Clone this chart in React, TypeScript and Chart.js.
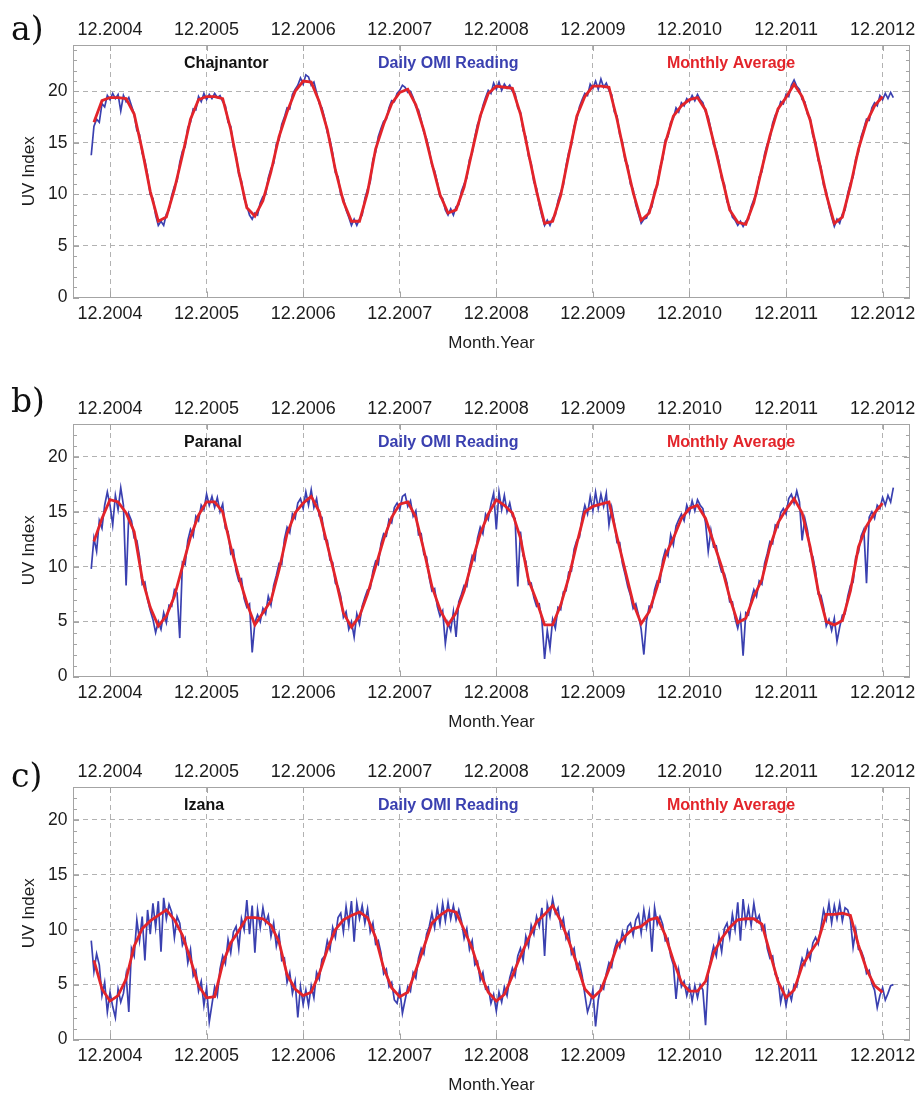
import React, { useEffect, useRef } from 'react';
import { Chart, registerables } from 'chart.js';

Chart.register(...registerables);

// ---------- axis ticks ----------
// x values are months counted from the December 2004 tick
const TICK_MONTHS = [0, 12, 24, 36, 48, 60, 72, 84, 96];
const TICK_LABELS = ['12.2004', '12.2005', '12.2006', '12.2007', '12.2008', '12.2009', '12.2010', '12.2011', '12.2012'];
const Y_TICKS = [0, 5, 10, 15, 20];
const X_MIN = -4.6;
const X_MAX = 99.4;

// first month of the monthly averages (Oct 2004) and sampling of the daily trace (~every 10 days)
const MONTHLY_FIRST = -2;
const DAILY_FIRST = -7 / 3;
const DAILY_STEP = 1 / 3;

// ---------- a) Chajnantor ----------
const CHAJ_MONTHLY = [
  17.0, 19.1, 19.4, 19.4, 19.3, 17.8, 14.3, 10.3, 7.4, 7.8, 10.5, 13.8, 17.3, 19.2,
  19.5, 19.5, 19.3, 16.3, 12.2, 8.7, 7.9, 9.4, 12.2, 15.6, 18.0, 20.0,
  21.0, 20.9, 19.0, 16.3, 12.4, 9.3, 7.4, 7.4, 10.2, 14.4, 16.8, 18.8,
  19.9, 20.2, 18.7, 16.2, 13.0, 10.0, 8.2, 8.5, 10.7, 14.2, 17.6, 19.8,
  20.5, 20.4, 20.3, 17.8, 14.0, 10.3, 7.2, 7.4, 9.9, 13.8, 17.6, 19.5,
  20.5, 20.5, 20.4, 17.3, 13.6, 10.2, 7.5, 8.2, 11.0, 15.0, 17.6, 18.6,
  19.2, 19.4, 18.2, 15.1, 11.8, 8.5, 7.3, 7.1, 9.2, 12.5, 15.7, 18.3,
  19.4, 20.7, 19.5, 17.2, 13.6, 10.0, 7.2, 7.8, 10.8, 14.4, 17.0, 18.6, 19.5,
];
const CHAJ_DAILY = [
  13.8, 16.6, 17.3, 17.0, 18.8, 18.5, 19.6, 19.2, 19.8, 19.3, 19.7, 18.1, 19.6, 19.0, 19.4,
  18.6, 17.8, 16.2, 15.8, 14.0, 13.3, 11.9, 10.0, 9.6, 8.0, 7.0, 7.4, 7.0, 8.1, 8.5,
  9.9, 10.8, 11.3, 13.1, 14.2, 14.6, 16.5, 17.0, 18.3, 18.2, 19.5, 19.0,
  19.8, 19.2, 19.7, 19.3, 19.8, 19.4, 19.6, 19.0, 18.6, 17.0, 16.6, 14.6, 13.8, 11.9, 11.3,
  9.6, 8.9, 8.0, 7.6, 8.2, 8.0, 9.2, 9.8, 10.0, 11.6, 12.5, 13.0, 14.9, 15.3, 16.8,
  17.5, 18.4, 18.3, 19.7, 20.2, 20.6,
  21.3, 20.7, 21.6, 21.4, 20.6, 20.9, 19.9, 18.8, 18.4, 17.4, 16.0, 15.3, 14.0, 12.1, 11.7,
  10.0, 9.6, 8.5, 7.8, 7.0, 7.6, 7.0, 7.6, 8.0, 9.6, 10.5, 11.2, 13.4, 14.1, 15.6,
  16.4, 17.1, 17.3, 18.4, 19.1, 19.0,
  19.8, 20.1, 20.6, 20.4, 19.9, 20.0, 19.4, 18.5, 18.2, 17.2, 16.0, 15.4, 14.3, 12.8, 12.3,
  11.2, 9.8, 9.6, 8.5, 8.0, 8.6, 8.0, 8.8, 9.0, 10.3, 11.0, 11.6, 13.4, 14.0, 15.6,
  16.8, 17.4, 18.6, 19.4, 20.1, 19.8,
  20.8, 20.2, 20.9, 20.1, 20.7, 20.3, 20.6, 20.0, 19.8, 18.4, 18.0, 16.2, 15.6, 13.7, 13.0,
  11.2, 10.6, 9.0, 7.9, 7.0, 7.5, 7.0, 7.7, 8.0, 9.4, 10.2, 10.9, 12.8, 14.1, 14.8,
  16.6, 17.3, 18.5, 19.2, 19.8, 19.6,
  20.7, 20.3, 21.0, 20.2, 21.2, 20.4, 20.8, 20.1, 19.7, 18.0, 17.6, 15.8, 15.1, 13.3, 12.8,
  11.0, 10.5, 9.0, 8.1, 7.2, 7.6, 7.7, 8.5, 8.8, 10.4, 10.8, 12.6, 13.4, 15.3, 15.6,
  17.0, 17.4, 18.4, 18.0, 18.9, 18.6,
  19.3, 19.0, 19.6, 19.1, 19.7, 19.2, 18.9, 18.0, 17.5, 16.3, 14.8, 14.3, 13.2, 11.5, 11.0,
  9.3, 8.8, 7.8, 7.5, 7.0, 7.4, 6.9, 7.4, 7.6, 8.8, 9.5, 10.0, 11.7, 12.2, 13.9,
  14.9, 15.4, 16.9, 17.7, 18.1, 19.0,
  18.8, 19.7, 19.5, 20.6, 21.1, 20.5, 20.2, 19.2, 19.0, 17.8, 17.4, 15.7, 15.1, 13.3, 12.7,
  10.9, 10.3, 8.8, 7.8, 6.9, 7.6, 7.2, 8.1, 8.5, 10.1, 11.1, 11.7, 13.5, 14.1, 15.6,
  16.4, 17.3, 17.2, 18.4, 18.9, 18.6, 19.6, 19.2, 19.8, 19.3, 19.9, 19.4,
];

// ---------- b) Paranal ----------
const PARA_MONTHLY = [
  12.3, 14.4, 16.1, 15.9, 14.9, 13.2, 8.9, 6.3, 4.6, 5.5, 7.3, 10.0, 12.7, 14.7,
  15.9, 15.9, 15.0, 11.8, 9.1, 6.7, 4.7, 5.8, 6.9, 9.7, 13.0, 14.9,
  15.8, 16.4, 15.0, 12.0, 9.0, 5.8, 4.5, 5.5, 7.5, 10.0, 12.5, 14.5,
  15.7, 15.9, 14.5, 11.5, 8.2, 6.1, 4.7, 5.8, 7.8, 10.5, 13.0, 14.8,
  16.1, 15.6, 14.9, 12.6, 8.8, 6.9, 4.7, 4.7, 6.5, 9.0, 12.1, 15.0,
  15.5, 15.7, 15.9, 12.7, 9.7, 6.7, 4.8, 5.9, 8.2, 11.0, 12.6, 14.4,
  15.3, 15.6, 14.4, 12.2, 10.0, 7.2, 4.9, 5.3, 7.3, 8.8, 11.8, 14.0,
  15.2, 16.2, 14.9, 11.8, 7.8, 5.0, 4.7, 5.1, 7.8, 11.8, 13.7, 14.9, 15.8,
];
const PARA_DAILY = [
  9.8, 12.6, 11.4, 14.2, 13.5, 15.6, 16.8, 15.6, 13.8, 16.5, 15.2, 17.2, 15.6, 8.3, 14.8,
  14.2, 12.6, 12.4, 10.9, 8.4, 8.6, 7.0, 6.0, 5.2, 4.0, 5.0, 4.3, 5.8, 4.9, 6.5,
  6.4, 7.9, 7.6, 3.5, 10.4, 10.2, 12.4, 13.4, 12.8, 14.6, 14.2, 15.6,
  15.2, 16.6, 15.6, 16.4, 15.4, 16.3, 15.0, 15.7, 13.5, 13.2, 11.2, 11.5, 9.6, 8.7, 8.9,
  7.1, 6.3, 6.6, 2.2, 4.9, 5.6, 5.0, 6.2, 5.7, 7.3, 6.5, 8.3, 9.2, 10.3, 10.2,
  12.5, 13.6, 13.1, 14.8, 14.4, 15.8,
  16.2, 15.3, 16.8, 15.6, 17.0, 15.4, 16.2, 14.6, 14.5, 12.5, 12.4, 10.6, 10.4, 8.5, 8.2,
  7.3, 5.4, 5.9, 4.3, 5.0, 3.6, 5.7, 4.8, 6.4, 7.2, 7.9, 8.0, 9.6, 10.5, 10.2,
  12.1, 13.0, 12.8, 14.3, 14.0, 15.4,
  15.8, 15.2, 16.4, 16.6, 15.5, 16.0, 14.6, 15.1, 12.9, 13.0, 11.1, 10.9, 9.0, 7.8, 8.0,
  6.4, 5.5, 6.0, 3.0, 4.9, 4.2, 5.9, 3.6, 6.8, 7.5, 8.3, 8.2, 9.9, 11.0, 10.6,
  12.6, 13.6, 13.0, 14.8, 14.3, 15.7,
  16.7, 13.4, 16.8, 15.2, 16.5, 15.0, 15.8, 14.6, 14.4, 8.2, 13.2, 11.0, 10.5, 8.4, 8.5,
  7.2, 6.4, 6.6, 5.1, 1.6, 4.2, 2.6, 5.2, 4.4, 6.3, 6.1, 7.7, 7.8, 9.5, 9.6,
  11.6, 12.4, 12.7, 14.5, 15.6, 14.8,
  16.4, 15.1, 16.8, 15.3, 16.6, 15.5, 16.7, 13.8, 15.4, 14.0, 12.2, 12.2, 10.3, 9.3, 8.2,
  7.4, 6.2, 6.6, 5.6, 4.3, 2.0, 5.1, 6.4, 6.3, 7.9, 8.7, 8.6, 10.6, 11.5, 11.0,
  12.9, 12.0, 13.7, 14.3, 14.8, 14.2,
  15.6, 14.9, 16.0, 15.1, 16.1, 15.6, 15.3, 14.0, 11.4, 13.3, 11.8, 11.9, 10.4, 9.5, 9.4,
  8.5, 6.8, 6.8, 5.3, 4.4, 5.5, 1.9, 5.8, 5.6, 7.0, 7.9, 7.3, 8.7, 8.4, 10.3,
  11.2, 12.3, 12.1, 13.8, 13.6, 14.9,
  15.3, 14.8, 16.2, 16.6, 15.8, 16.9, 15.9, 12.4, 14.4, 13.3, 11.4, 10.9, 9.6, 7.5, 7.4,
  6.3, 4.6, 5.2, 4.2, 5.3, 3.2, 4.5, 5.6, 5.7, 7.3, 8.3, 8.6, 10.9, 11.3, 12.8,
  13.4, 8.5, 14.5, 15.0, 14.4, 15.6, 15.3, 16.3, 15.6, 16.5, 15.9, 17.2,
];

// ---------- c) Izana ----------
const IZAN_MONTHLY = [
  7.2, 4.6, 3.5, 4.0, 5.5, 8.5, 10.1, 10.8, 11.3, 11.8, 10.9, 9.5, 7.3, 4.9,
  3.8, 3.9, 6.9, 8.8, 9.9, 11.1, 11.1, 11.0, 10.4, 8.9, 5.9, 4.6,
  4.0, 4.3, 6.0, 8.2, 10.0, 10.9, 11.3, 11.6, 11.1, 9.3, 6.5, 4.7,
  3.9, 4.3, 6.3, 8.4, 10.6, 11.3, 11.8, 11.6, 10.0, 8.3, 6.0, 4.3,
  3.5, 4.1, 5.8, 7.6, 9.2, 10.7, 11.4, 12.2, 10.8, 9.0, 6.9, 4.6,
  3.8, 4.5, 6.4, 8.5, 9.4, 10.1, 10.3, 10.9, 11.1, 9.5, 7.2, 5.2,
  4.4, 4.4, 5.3, 7.9, 9.2, 10.2, 10.9, 11.0, 11.0, 10.5, 7.9, 5.3,
  3.8, 4.5, 6.7, 7.9, 9.0, 11.4, 11.4, 11.5, 11.3, 8.6, 6.4, 4.9, 4.3,
];
const IZAN_DAILY = [
  9.0, 6.2, 7.8, 6.8, 4.0, 5.2, 2.5, 4.3, 3.0, 2.0, 4.6, 3.4, 4.2, 5.9, 2.5,
  8.3, 7.6, 10.9, 9.0, 11.2, 7.2, 11.8, 9.6, 12.4, 10.2, 12.6, 8.0, 12.9, 11.0, 12.3,
  11.6, 9.3, 11.2, 10.6, 8.6, 9.2, 7.0, 8.2, 5.8, 6.3, 4.4, 5.3,
  3.1, 4.7, 1.6, 3.2, 4.8, 4.0, 6.4, 7.6, 6.9, 9.1, 7.9, 9.8, 10.3, 8.3, 11.0,
  10.0, 12.7, 9.6, 12.2, 7.9, 11.8, 10.2, 12.0, 10.6, 11.3, 9.4, 10.6, 8.5, 9.6, 7.2,
  7.4, 5.2, 6.1, 4.2, 5.3, 2.0,
  4.8, 3.2, 4.5, 3.1, 4.9, 3.8, 6.1, 5.5, 7.3, 7.6, 9.0, 8.2, 10.2, 9.3, 11.1,
  11.5, 9.8, 12.1, 10.4, 12.6, 8.9, 12.4, 11.0, 12.2, 10.6, 11.9, 9.8, 10.6, 8.7, 9.0,
  7.9, 6.0, 6.4, 4.8, 5.2, 3.6,
  3.3, 4.6, 2.4, 3.6, 4.8, 4.4, 6.1, 5.6, 7.4, 8.3, 7.8, 9.6, 10.3, 11.5, 10.2,
  12.0, 10.5, 12.4, 10.8, 12.5, 11.0, 12.2, 10.9, 11.8, 10.8, 9.2, 10.1, 8.2, 9.0, 6.8,
  7.1, 5.4, 6.1, 4.6, 4.8, 3.3,
  4.1, 2.6, 4.3, 3.4, 4.8, 4.0, 5.6, 6.5, 5.8, 7.6, 8.3, 7.2, 9.4, 8.5, 10.4,
  9.6, 11.2, 10.3, 12.0, 7.6, 12.3, 11.2, 12.8, 11.5, 12.0, 10.3, 11.0, 9.2, 9.8, 7.8,
  8.3, 6.5, 7.0, 5.8, 4.1, 2.5,
  3.3, 4.5, 1.2, 3.6, 4.9, 4.6, 6.0, 7.0, 6.6, 8.2, 9.0, 8.4, 9.8, 8.9, 10.3,
  10.6, 9.5, 10.9, 11.4, 9.7, 11.8, 10.2, 11.6, 8.0, 12.0, 10.5, 11.2, 10.5, 9.0, 9.2,
  7.6, 6.8, 3.7, 6.3, 4.8, 5.3,
  4.0, 4.9, 3.5, 4.9, 3.8, 5.0, 4.5, 1.3, 6.0, 7.4, 8.5, 7.6, 9.4, 8.0, 10.1,
  10.6, 9.3, 11.4, 10.0, 12.5, 9.0, 12.8, 10.6, 12.0, 10.4, 12.4, 10.8, 11.3, 10.0, 10.4,
  8.3, 7.4, 7.6, 5.9, 5.6, 3.4,
  4.6, 3.1, 4.4, 3.6, 5.0, 4.8, 6.3, 7.4, 6.8, 8.1, 7.3, 8.8, 9.3, 8.7, 10.2,
  11.8, 10.9, 12.4, 10.6, 12.2, 11.0, 12.4, 10.8, 12.0, 11.8, 10.9, 8.4, 10.0, 8.2, 8.1,
  7.4, 6.0, 6.3, 5.1, 4.5, 2.9, 4.0, 4.7, 3.6, 4.2, 4.9, 5.0,
];

// ---------- styles ----------
const SANS = "'Liberation Sans', Arial, sans-serif";
const BLUE = '#3a40b0';
const RED = '#e3242a';
const GRID = '#b2b2b2';
const FRAME = '#a4a4a4';
const TEXT = '#1c1c1c';

const CANVAS_W = 921;
const CANVAS_H = 360;
const PLOT_TOP = 45;
const PLOT_BOTTOM = 297.5;
const PLOT_LEFT = 73;
const PLOT_RIGHT = 912;

const ANNOT_MONTHS = [9.2, 33.3, 69.2];

const PANELS = [
  { letter: 'a)', letterY: 40, top: 0, site: 'Chajnantor', yMax: 24.5, monthly: CHAJ_MONTHLY, daily: CHAJ_DAILY },
  { letter: 'b)', letterY: 33, top: 379, site: 'Paranal', yMax: 23, monthly: PARA_MONTHLY, daily: PARA_DAILY },
  { letter: 'c)', letterY: 45, top: 742, site: 'Izana', yMax: 23, monthly: IZAN_MONTHLY, daily: IZAN_DAILY },
];

type PanelCfg = typeof PANELS[number];

const xTickLabel = (v: number) => {
  const i = TICK_MONTHS.indexOf(Number(v));
  return i >= 0 ? TICK_LABELS[i] : '';
};

function makeDecor(cfg: PanelCfg) {
  return {
    id: 'decor',
    afterDraw(chart: any) {
      const { ctx, chartArea, scales } = chart;
      const { left, right, top, bottom } = chartArea;
      ctx.save();
      ctx.strokeStyle = FRAME;
      ctx.lineWidth = 1;
      for (let v = 0; v <= cfg.yMax; v += 1) {
        const y = Math.round(scales.y.getPixelForValue(v)) + 0.5;
        const len = v % 5 === 0 ? 6 : 4;
        ctx.beginPath();
        ctx.moveTo(left, y);
        ctx.lineTo(left + len, y);
        ctx.moveTo(right, y);
        ctx.lineTo(right - len, y);
        ctx.stroke();
      }
      for (const m of TICK_MONTHS) {
        const x = Math.round(scales.x.getPixelForValue(m)) + 0.5;
        ctx.beginPath();
        ctx.moveTo(x, bottom);
        ctx.lineTo(x, bottom - 6);
        ctx.moveTo(x, top);
        ctx.lineTo(x, top + 6);
        ctx.stroke();
      }
      ctx.font = `bold 16px ${SANS}`;
      ctx.textBaseline = 'middle';
      ctx.textAlign = 'left';
      const ty = top + 19;
      const labels: [string, string][] = [
        [cfg.site, '#111111'],
        ['Daily OMI Reading', BLUE],
        ['Monthly Average', RED],
      ];
      labels.forEach(([t, c], i) => {
        ctx.fillStyle = c;
        ctx.fillText(t, scales.x.getPixelForValue(ANNOT_MONTHS[i]), ty);
      });
      ctx.font = `33px 'DejaVu Serif', 'Liberation Serif', serif`;
      ctx.textBaseline = 'alphabetic';
      ctx.fillStyle = '#111111';
      ctx.fillText(cfg.letter, 11, cfg.letterY);
      ctx.restore();
    },
  };
}

function Panel({ cfg }: { cfg: PanelCfg }) {
  const ref = useRef<HTMLCanvasElement | null>(null);
  useEffect(() => {
    if (!ref.current) return;
    const monthly = cfg.monthly.map((y, i) => ({ x: MONTHLY_FIRST + i, y }));
    const daily = cfg.daily.map((y, i) => ({ x: DAILY_FIRST + i * DAILY_STEP, y }));
    const xTicks = {
      callback: (v: any) => xTickLabel(v),
      color: TEXT,
      font: { family: SANS, size: 18 },
      autoSkip: false,
      maxRotation: 0,
      minRotation: 0,
    };
    const setXTicks = (s: any) => {
      s.ticks = TICK_MONTHS.map((v) => ({ value: v }));
    };
    const chart = new Chart(ref.current, {
      type: 'line',
      data: {
        datasets: [
          {
            label: 'Monthly Average',
            data: monthly,
            borderColor: RED,
            borderWidth: 2.8,
            pointRadius: 0,
            tension: 0,
            order: 1,
          },
          {
            label: 'Daily OMI Reading',
            data: daily,
            borderColor: BLUE,
            borderWidth: 1.7,
            pointRadius: 0,
            tension: 0,
            order: 2,
          },
        ],
      },
      options: {
        responsive: false,
        maintainAspectRatio: false,
        animation: false,
        layout: { padding: 0 },
        plugins: { legend: { display: false }, tooltip: { enabled: false } },
        scales: {
          x: {
            type: 'linear',
            position: 'bottom',
            min: X_MIN,
            max: X_MAX,
            afterBuildTicks: setXTicks,
            ticks: { ...xTicks, padding: 5.5 },
            grid: { color: GRID, lineWidth: 1, drawTicks: false },
            border: { color: FRAME, width: 1, dash: [5, 4] },
            title: {
              display: true,
              text: 'Month.Year',
              color: TEXT,
              font: { family: SANS, size: 17 },
              padding: { top: 0, bottom: 6 },
            },
            afterFit: (s: any) => {
              s.height = CANVAS_H - PLOT_BOTTOM;
            },
          },
          x2: {
            type: 'linear',
            position: 'top',
            min: X_MIN,
            max: X_MAX,
            afterBuildTicks: setXTicks,
            ticks: { ...xTicks, padding: 3.7 },
            grid: { display: false, drawTicks: false },
            border: { display: true, color: FRAME, width: 1 },
            afterFit: (s: any) => {
              s.height = PLOT_TOP;
            },
          },
          y: {
            type: 'linear',
            position: 'left',
            min: 0,
            max: cfg.yMax,
            afterBuildTicks: (s: any) => {
              s.ticks = Y_TICKS.map((v) => ({ value: v }));
            },
            ticks: {
              color: TEXT,
              font: { family: SANS, size: 17.5 },
              padding: 5.5,
              callback: (v: any) => String(v),
            },
            grid: { color: GRID, lineWidth: 1, drawTicks: false },
            border: { color: FRAME, width: 1, dash: [5, 4] },
            title: {
              display: true,
              text: 'UV Index',
              color: TEXT,
              font: { family: SANS, size: 17 },
              padding: { top: 19, bottom: 0 },
            },
            afterFit: (s: any) => {
              s.width = PLOT_LEFT;
            },
          },
          y2: {
            type: 'linear',
            position: 'right',
            min: 0,
            max: cfg.yMax,
            ticks: { display: false },
            grid: { display: false, drawTicks: false },
            border: { display: true, color: FRAME, width: 1 },
            afterFit: (s: any) => {
              s.width = CANVAS_W - PLOT_RIGHT;
            },
          },
        },
      },
      plugins: [makeDecor(cfg)],
    } as any);
    return () => chart.destroy();
  }, [cfg]);
  return (
    <canvas
      ref={ref}
      width={CANVAS_W}
      height={CANVAS_H}
      style={{ position: 'absolute', left: 0, top: cfg.top, width: CANVAS_W, height: CANVAS_H, display: 'block' }}
    />
  );
}

export default function App() {
  return (
    <div
      style={{
        position: 'absolute',
        left: 0,
        top: 0,
        width: CANVAS_W,
        height: 1093,
        overflow: 'hidden',
        background: '#ffffff',
      }}
    >
      {PANELS.map((p) => (
        <Panel key={p.letter} cfg={p} />
      ))}
    </div>
  );
}
